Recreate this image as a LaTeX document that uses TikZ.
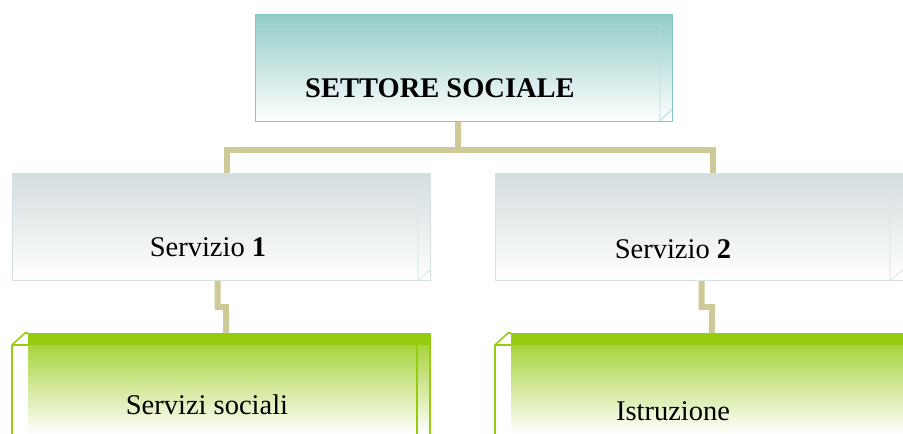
\documentclass[tikz,border=0pt]{standalone}
\usepackage{fontspec}
\setmainfont{Liberation Serif}
\usepackage{xcolor}
\usepackage{tikz}
\usetikzlibrary{positioning, calc}
\definecolor{tealtop}{RGB}{146,204,200}
\definecolor{tealedge}{RGB}{130,200,196}
\definecolor{greytop}{RGB}{212,221,223}
\definecolor{greyedge}{RGB}{214,224,226}
\definecolor{greentop}{RGB}{152,202,20}
\definecolor{greenedge}{RGB}{150,204,16}
\definecolor{khaki}{RGB}{206,202,152}

\begin{document}
\begin{tikzpicture}[x=1pt,y=-1pt]
                \tikzset{box/.style = {rectangle, inner sep=0pt, anchor=north west}}
                \tikzset{conn/.style = {khaki, line width=6pt}}
                \tikzset{faceline/.style = {line width=0.8pt}}
                \tikzset{greenline/.style = {greenedge, line width=1.6pt}}
                \tikzset{lbl/.style = {anchor=base, inner sep=0pt, font=\fontsize{28.5}{32}\selectfont}}

                \useasboundingbox (0,0) rectangle (903,434);

                % boxes
                \node[box, draw=tealedge, line width=1.2pt, top color=tealtop, bottom color=white, minimum width=417pt, minimum height=107pt] (settore) at (255,14) {};
                \node[box, draw=greyedge, line width=1.2pt, top color=greytop, bottom color=white, minimum width=418pt, minimum height=107pt] (serv1) at (12,173) {};
                \node[box, draw=greyedge, line width=1.2pt, top color=greytop, bottom color=white, minimum width=408pt, minimum height=107pt] (serv2) at (495,173) {};
                \node[box, top color=greentop!85!white, middle color=greentop!38!white, bottom color=white, minimum width=402pt, minimum height=92pt] (sociali) at (28,342) {};
                \node[box, top color=greentop!85!white, middle color=greentop!38!white, bottom color=white, minimum width=392pt, minimum height=92pt] (istruz) at (511,342) {};

                % side faces
                \draw[faceline, tealedge!60] (255,25) -- (660,25) -- (660,121) -- (672,109);
                \draw[faceline, greyedge] (418,180) -- (418,280) -- (430,270);
                \draw[faceline, greyedge] (890,185) -- (890,280) -- (903,270);

                \fill[greenedge] (28,333) rectangle (430,345);
                \draw[greenline] (12,434) -- (12,345) -- (25,333) -- (28,333);
                \draw[greenline] (12,345) -- (28,345);
                \draw[greenline] (417,345) -- (417,434);
                \draw[greenline] (430,333) -- (430,434);

                \fill[greenedge] (511,333) rectangle (903,345);
                \draw[greenline] (495,434) -- (495,345) -- (508,333) -- (511,333);
                \draw[greenline] (495,345) -- (511,345);

                % connectors
                \coordinate (bus) at (458,150);
                \coordinate (jog1) at (226,307);
                \coordinate (jog2) at (712,307);
                \draw[conn] ([xshift=-6pt]settore.south) -- (bus);
                \draw[conn] (bus) -| ([xshift=5pt]serv1.north);
                \draw[conn] (bus) -| ([xshift=13pt]serv2.north);
                \draw[conn] ([xshift=-4pt]serv1.south) |- (jog1) -- ([xshift=-3pt,yshift=9pt]sociali.north);
                \draw[conn] ([xshift=2pt]serv2.south) |- (jog2) -- ([xshift=5pt,yshift=9pt]istruz.north);

                % labels
                \node[lbl] (tsettore) at (440,97) {\textbf{SETTORE SOCIALE}};
                \node[lbl] (tserv1) at (208,256) {Servizio \textbf{1}};
                \node[lbl] (tserv2) at (673,258) {Servizio \textbf{2}};
                \node[lbl] (tsociali) at (207,414) {Servizi sociali};
                \node[lbl] (tistruz) at (673,420) {Istruzione};

\end{tikzpicture}
\end{document}
